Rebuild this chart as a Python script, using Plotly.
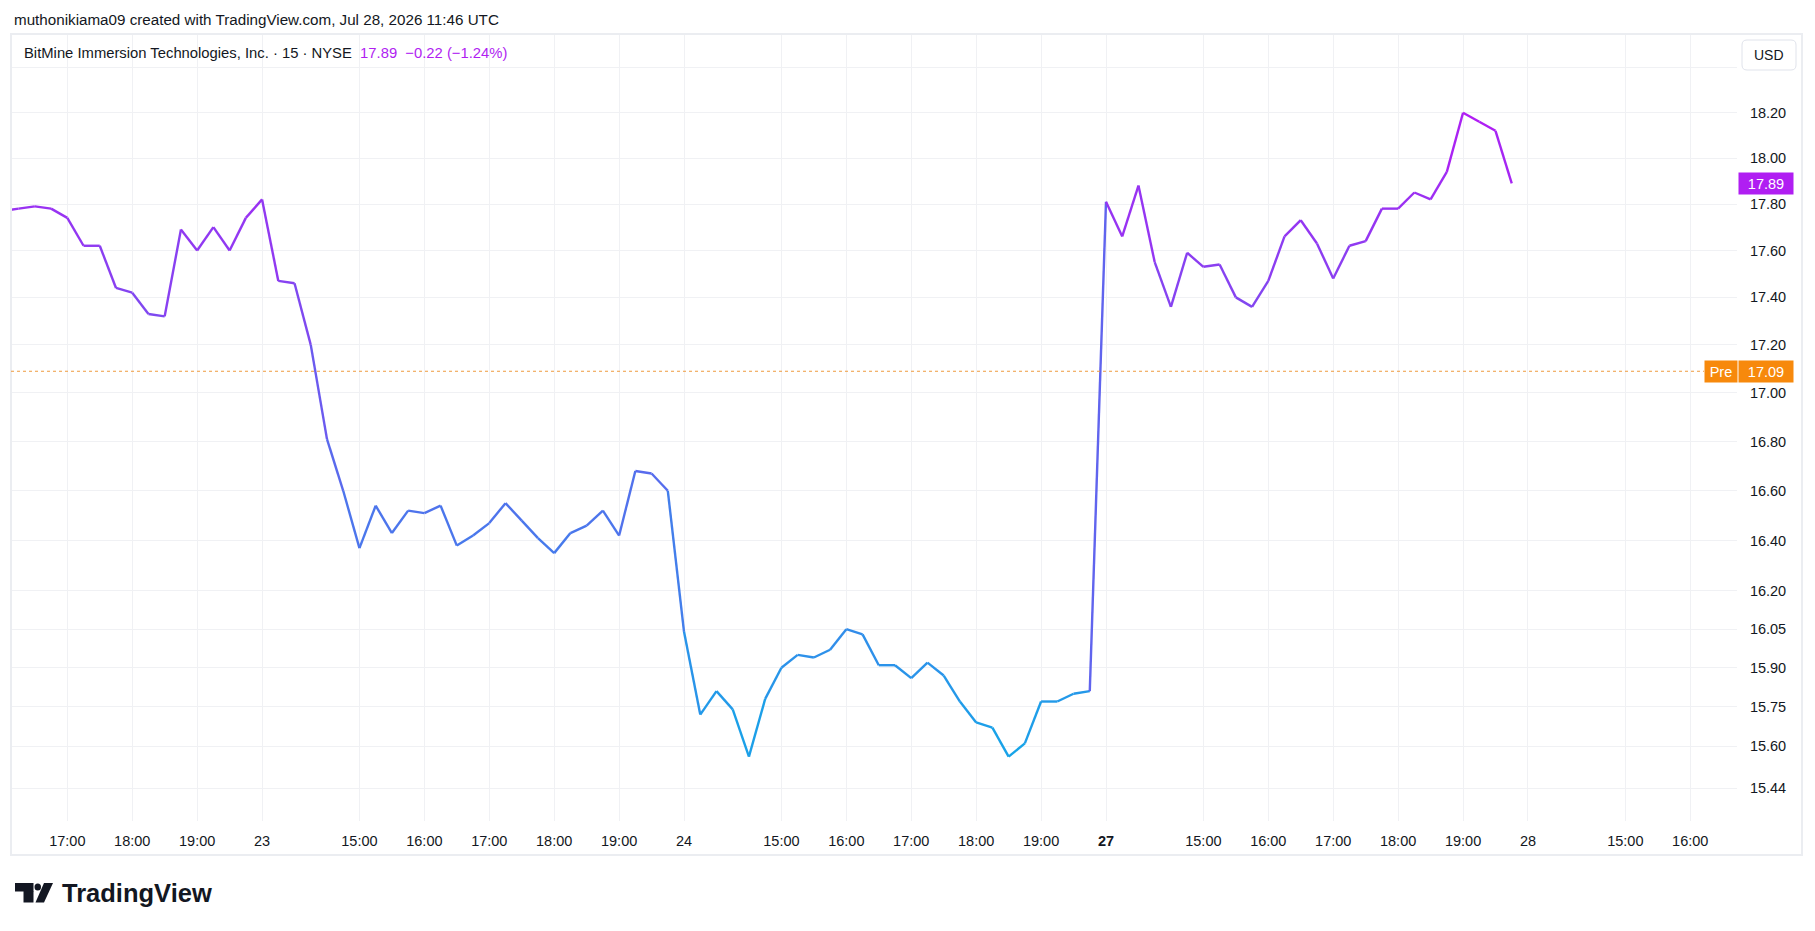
import math
import plotly.graph_objects as go

# ---------------- data ----------------
session_days = ["22", "23", "24", "27", "28"]          # trading sessions (July 2026)
bold_days = ["27"]                                     # week start shown in bold
bars_per_session = 26                                  # 15-min bars 13:30..19:45 UTC
session_open = "13:30"
hour_ticks = ["15:00", "16:00", "17:00", "18:00", "19:00"]

first_bar_jul22 = "16:00"
close_jul22 = [17.77, 17.78, 17.79, 17.78, 17.74, 17.62, 17.62, 17.44, 17.42, 17.33,
               17.32, 17.69, 17.60, 17.70, 17.60, 17.74]
close_jul23 = [17.82, 17.47, 17.46, 17.20, 16.81, 16.60, 16.37, 16.54, 16.43, 16.52,
               16.51, 16.54, 16.38, 16.42, 16.47, 16.55, 16.48, 16.41, 16.35, 16.43,
               16.46, 16.52, 16.42, 16.68, 16.67, 16.60]
close_jul24 = [16.04, 15.72, 15.81, 15.74, 15.56, 15.78, 15.90, 15.95, 15.94, 15.97,
               16.05, 16.03, 15.91, 15.91, 15.86, 15.92, 15.87, 15.77, 15.69, 15.67,
               15.56, 15.61, 15.77, 15.77, 15.80, 15.81]
close_jul27 = [17.81, 17.66, 17.88, 17.55, 17.36, 17.59, 17.53, 17.54, 17.40, 17.36,
               17.47, 17.66, 17.73, 17.63, 17.48, 17.62, 17.64, 17.78, 17.78, 17.85,
               17.82, 17.94, 18.20, 18.16, 18.12, 17.89]

y_tick_values = [18.40, 18.20, 18.00, 17.80, 17.60, 17.40, 17.20, 17.00, 16.80,
                 16.60, 16.40, 16.20, 16.05, 15.90, 15.75, 15.60, 15.44]
hidden_y_ticks = [18.40]

last_price = 17.89
price_change = -0.22
price_change_pct = -1.24
pre_market_price = 17.09

title_text = "muthonikiama09 created with TradingView.com, Jul 28, 2026 11:46 UTC"
symbol_text = "BitMine Immersion Technologies, Inc. · 15 · NYSE"

# ---------------- layout geometry ----------------
FIG_W, FIG_H = 1815, 931
PL, PR, PT, PB = 11, 1737, 34, 821          # plot area in pixels
Y_MIN, Y_MAX = 15.318, 18.552
X_MIN, X_MAX = 10.53, 116.88

FONT = "Liberation Sans, Arial, sans-serif"
TEXT = "#131722"
TOP_RGB = (178, 28, 244)
BOT_RGB = (22, 165, 232)
PURPLE = "rgb(176,30,242)"
ORANGE = "#f7890c"


def to_min(hhmm):
    h, m = hhmm.split(":")
    return int(h) * 60 + int(m)


def bar_index(session_i, hhmm):
    return session_i * bars_per_session + (to_min(hhmm) - to_min(session_open)) // 15


def px_x(x):
    return (x - PL) / (PR - PL)


def px_y(y):
    return (PB - y) / (PB - PT)


def price_paper(p):
    return (math.log10(p) - math.log10(Y_MIN)) / (math.log10(Y_MAX) - math.log10(Y_MIN))


# ---------------- series ----------------
sessions_close = [close_jul22, close_jul23, close_jul24, close_jul27]
xs, ys = [], []
for si, closes in enumerate(sessions_close):
    start = bar_index(si, first_bar_jul22) if si == 0 else bar_index(si, session_open)
    for k, c in enumerate(closes):
        xs.append(start + k)
        ys.append(c)

pmin, pmax = min(ys), max(ys)


def grad_color(p):
    f = (p - pmin) / (pmax - pmin)
    f = max(0.0, min(1.0, f))
    r = round(BOT_RGB[0] + f * (TOP_RGB[0] - BOT_RGB[0]))
    g = round(BOT_RGB[1] + f * (TOP_RGB[1] - BOT_RGB[1]))
    b = round(BOT_RGB[2] + f * (TOP_RGB[2] - BOT_RGB[2]))
    return f"rgb({r},{g},{b})"


fig = go.Figure()
for i in range(len(xs) - 1):
    fig.add_trace(go.Scatter(
        x=[xs[i], xs[i + 1]], y=[ys[i], ys[i + 1]],
        mode="lines", line=dict(color=grad_color((ys[i] + ys[i + 1]) / 2), width=2.4),
        hoverinfo="skip", showlegend=False,
    ))

# ---------------- ticks ----------------
x_tickvals, x_ticktext = [], []
for si, day in enumerate(session_days):
    x_tickvals.append(bar_index(si, session_open))
    x_ticktext.append(f"<b>{day}</b>" if day in bold_days else day)
    for hh in hour_ticks:
        x_tickvals.append(bar_index(si, hh))
        x_ticktext.append(hh)

y_ticktext = ["" if v in hidden_y_ticks else f"{v:.2f}" for v in y_tick_values]

GRID = "#f0f1f4"
fig.update_layout(
    width=FIG_W, height=FIG_H, autosize=False,
    margin=dict(l=PL, r=FIG_W - PR, t=PT, b=FIG_H - PB, pad=0),
    paper_bgcolor="white", plot_bgcolor="white",
    showlegend=False, hovermode=False,
    font=dict(family=FONT, color=TEXT, size=14),
    xaxis=dict(
        range=[X_MIN, X_MAX], tickmode="array", tickvals=x_tickvals, ticktext=x_ticktext,
        showgrid=True, gridcolor=GRID, gridwidth=1, zeroline=False, showline=False,
        ticks="outside", ticklen=7, tickcolor="rgba(0,0,0,0)",
        tickfont=dict(family=FONT, size=14.5, color=TEXT),
    ),
    yaxis=dict(
        type="log", side="right",
        range=[math.log10(Y_MIN), math.log10(Y_MAX)],
        tickmode="array", tickvals=y_tick_values, ticktext=y_ticktext,
        showgrid=True, gridcolor=GRID, gridwidth=1, zeroline=False, showline=False,
        ticks="outside", ticklen=9, tickcolor="rgba(0,0,0,0)",
        tickfont=dict(family=FONT, size=14.5, color=TEXT),
    ),
)

shapes = []
annotations = []

# chart frame
shapes.append(dict(type="rect", xref="paper", yref="paper",
                   x0=px_x(11), x1=px_x(1802), y0=px_y(855), y1=px_y(34),
                   line=dict(color="#ebedf1", width=2), fillcolor="rgba(0,0,0,0)", layer="above"))

# pre-market dotted line
yp = price_paper(pre_market_price)
shapes.append(dict(type="line", xref="paper", yref="paper", x0=0, x1=px_x(1704), y0=yp, y1=yp,
                   line=dict(color="#ee9a3e", width=1, dash="dot")))

# USD box (rounded)
def rounded_rect(x0p, y0p, x1p, y1p, r):
    a0, a1 = px_x(x0p), px_x(x1p)
    b0, b1 = px_y(y1p), px_y(y0p)
    rx = r / (PR - PL)
    ry = r / (PB - PT)
    return (f"M {a0+rx},{b0} L {a1-rx},{b0} Q {a1},{b0} {a1},{b0+ry} "
            f"L {a1},{b1-ry} Q {a1},{b1} {a1-rx},{b1} L {a0+rx},{b1} "
            f"Q {a0},{b1} {a0},{b1-ry} L {a0},{b0+ry} Q {a0},{b0} {a0+rx},{b0} Z")


shapes.append(dict(type="path", xref="paper", yref="paper",
                   path=rounded_rect(1742, 40, 1796, 70, 5),
                   line=dict(color="#e0e3eb", width=1), fillcolor="white"))
annotations.append(dict(xref="paper", yref="paper", x=px_x(1769), y=px_y(55),
                        text="USD", showarrow=False, xanchor="center", yanchor="middle",
                        font=dict(family=FONT, size=14, color=TEXT)))

# header + symbol legend
annotations.append(dict(xref="paper", yref="paper", x=px_x(12), y=px_y(20),
                        text=title_text, showarrow=False, xanchor="left", yanchor="middle",
                        font=dict(family=FONT, size=15.2, color=TEXT)))
chg_txt = f"{price_change:.2f}".replace("-", "\u2212")
pct_txt = f"{price_change_pct:.2f}%".replace("-", "\u2212")
annotations.append(dict(xref="paper", yref="paper", x=px_x(22), y=px_y(53),
                        text=(f"{symbol_text}&nbsp;&nbsp;<span style='color:{PURPLE}'>"
                              f"{last_price:.2f}&nbsp;&nbsp;{chg_txt} ({pct_txt})</span>"),
                        showarrow=False, xanchor="left", yanchor="middle",
                        font=dict(family=FONT, size=14.8, color=TEXT)))

# last price label
annotations.append(dict(xref="paper", yref="paper", x=px_x(1738), y=price_paper(last_price),
                        text=f"{last_price:.2f}", showarrow=False, xanchor="left", yanchor="middle",
                        width=54, height=21, bgcolor=PURPLE, borderpad=0, align="center",
                        font=dict(family=FONT, size=14.5, color="white")))
# pre-market labels
annotations.append(dict(xref="paper", yref="paper", x=px_x(1704), y=yp,
                        text="Pre", showarrow=False, xanchor="left", yanchor="middle",
                        width=32, height=21, bgcolor=ORANGE, borderpad=0, align="center",
                        font=dict(family=FONT, size=14.5, color="white")))
annotations.append(dict(xref="paper", yref="paper", x=px_x(1738), y=yp,
                        text=f"{pre_market_price:.2f}", showarrow=False, xanchor="left", yanchor="middle",
                        width=54, height=21, bgcolor=ORANGE, borderpad=0, align="center",
                        font=dict(family=FONT, size=14.5, color="white")))

# TradingView logo
shapes.append(dict(type="rect", xref="paper", yref="paper",
                   x0=px_x(15), x1=px_x(33.5), y0=px_y(891.5), y1=px_y(883),
                   line=dict(width=0), fillcolor="#131722"))
shapes.append(dict(type="rect", xref="paper", yref="paper",
                   x0=px_x(23.5), x1=px_x(33.5), y0=px_y(902.5), y1=px_y(891),
                   line=dict(width=0), fillcolor="#131722"))
shapes.append(dict(type="circle", xref="paper", yref="paper",
                   x0=px_x(34.5), x1=px_x(41), y0=px_y(890.5), y1=px_y(883.5),
                   line=dict(width=0), fillcolor="#131722"))
shapes.append(dict(type="path", xref="paper", yref="paper",
                   path=(f"M {px_x(44)},{px_y(883)} L {px_x(53)},{px_y(883)} "
                         f"L {px_x(44)},{px_y(902.5)} L {px_x(35.5)},{px_y(902.5)} Z"),
                   line=dict(width=0), fillcolor="#131722"))
annotations.append(dict(xref="paper", yref="paper", x=px_x(60), y=px_y(893),
                        text="<b>TradingView</b>", showarrow=False, xanchor="left", yanchor="middle",
                        font=dict(family=FONT, size=25.5, color="#131722")))

fig.update_layout(shapes=shapes, annotations=annotations)
fig.write_html("out.html")
